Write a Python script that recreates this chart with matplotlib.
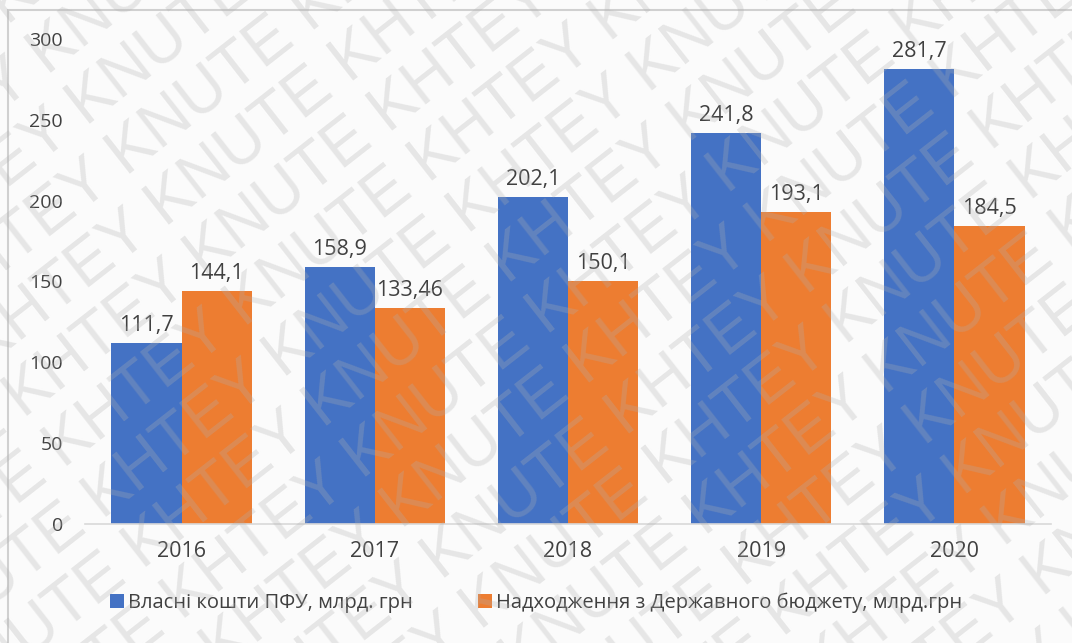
import numpy as np
import matplotlib
matplotlib.use("Agg")
import matplotlib.pyplot as plt
from matplotlib.patches import Rectangle

plt.rcParams['font.family'] = ['Open Sans', 'DejaVu Sans']

# Data
years = ["2016", "2017", "2018", "2019", "2020"]
own_funds = [111.7, 158.9, 202.1, 241.8, 281.7]
state_budget = [144.1, 133.46, 150.1, 193.1, 184.5]
own_labels = ["111,7", "158,9", "202,1", "241,8", "281,7"]
budget_labels = ["144,1", "133,46", "150,1", "193,1", "184,5"]
series_names = ["Власні кошти ПФУ, млрд. грн",
                "Надходження з Державного бюджету, млрд.грн"]
yticks = [0, 50, 100, 150, 200, 250, 300]

W, H = 1072, 643
fig = plt.figure(figsize=(W / 100, H / 100), dpi=100)
fig.patch.set_facecolor("#fbfbfb")

# chart border
fig.patches.append(Rectangle((8 / W, -0.1), 1.2, 1.1 - 10 / H,
                             transform=fig.transFigure, fill=False,
                             edgecolor="#d0d0d0", linewidth=1.5))

ax = fig.add_axes([85 / W, 1 - 524 / H, (1051 - 85) / W, (524 - 39) / H])
ax.set_facecolor("none")

x = np.arange(len(years))
width = 0.363
b1 = ax.bar(x - width / 2, own_funds, width, color="#4472C4",
            label=series_names[0])
b2 = ax.bar(x + width / 2, state_budget, width, color="#ED7D31",
            label=series_names[1])

ax.bar_label(b1, labels=own_labels, padding=5, fontsize=15.5, color="#404040")
ax.bar_label(b2, labels=budget_labels, padding=5, fontsize=15.5, color="#404040")

ax.set_xlim(-0.5, len(years) - 0.5)
ax.set_ylim(0, 300)
ax.set_yticks(yticks)
ax.set_xticks(x)
ax.set_xticklabels(years)
ax.tick_params(axis="both", length=0, labelcolor="#404040")
ax.tick_params(axis="x", pad=12, labelsize=15.5)
ax.tick_params(axis="y", pad=16, labelsize=14)

for side in ["top", "right", "left"]:
    ax.spines[side].set_visible(False)
ax.spines["bottom"].set_color("#d9d9d9")
ax.spines["bottom"].set_linewidth(1.2)

fig.legend(loc="center", bbox_to_anchor=(0.5, 1 - 603 / H), ncol=2,
           frameon=False, fontsize=14.5, handlelength=0.7, handleheight=0.7,
           handletextpad=0.2, columnspacing=3.2, labelcolor="#404040")

# watermark "KHTEY KNUTE" over the whole picture
theta = 38
rad = np.deg2rad(theta)
step = 64
wm = "KHTEY KNUTE " * 10
for k in range(-12, 13):
    cx = W / 2 - k * step * np.sin(rad)
    cy = H / 2 + k * step * np.cos(rad)
    fig.text(cx / W, cy / H, wm, rotation=theta, rotation_mode="anchor",
             ha="center", va="center", fontsize=46,
             family="Liberation Sans", color="#b0b0b0", alpha=0.28,
             zorder=10, clip_on=True)

plt.savefig("out.png", dpi=100, facecolor=fig.get_facecolor())
